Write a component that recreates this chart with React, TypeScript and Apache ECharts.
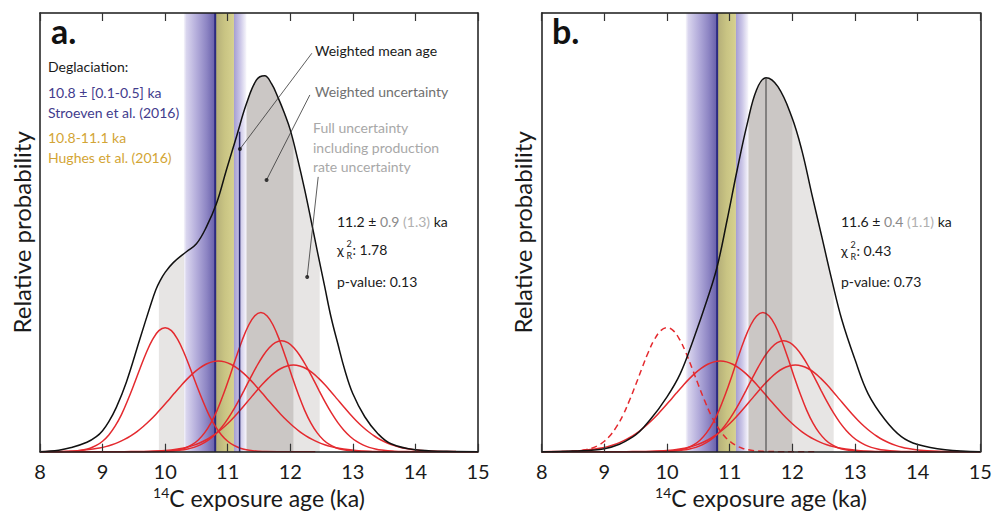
import React, { useEffect, useRef } from 'react';
import * as echarts from 'echarts';

const FONT = 'Lato, "Open Sans", sans-serif';
const Y_MAX = 1.167;
const X_MIN = 8;
const X_MAX = 15;

// Summed probability curve, panel a (all 5 samples) : [age ka, relative probability]
const sumA: number[][] = [
  [8.0, 0], [8.3, 0.004], [8.5, 0.011], [8.75, 0.025], [8.9, 0.04], [9.0, 0.056], [9.1, 0.08], [9.22, 0.118],
  [9.38, 0.185], [9.6, 0.302], [9.76, 0.386], [9.85, 0.43], [9.92, 0.455], [10.0, 0.477], [10.13, 0.503],
  [10.34, 0.532], [10.5, 0.553], [10.66, 0.598], [10.82, 0.66], [10.98, 0.75], [11.14, 0.838], [11.3, 0.926],
  [11.46, 0.989], [11.59, 1.0], [11.7, 0.979], [11.8, 0.944], [11.91, 0.899], [12.0, 0.856], [12.12, 0.777],
  [12.23, 0.697], [12.33, 0.617], [12.44, 0.527], [12.55, 0.439], [12.65, 0.359], [12.76, 0.287], [12.87, 0.218],
  [13.0, 0.154], [13.19, 0.093], [13.4, 0.048], [13.61, 0.021], [14.0, 0.005], [14.5, 0.001], [15.0, 0],
];

// Summed probability curve, panel b (outlier excluded)
const sumB: number[][] = [
  [8.0, 0], [8.5, 0.002], [9.0, 0.008], [9.46, 0.04], [9.73, 0.085], [10.0, 0.146], [10.21, 0.207],
  [10.42, 0.298], [10.64, 0.404], [10.8, 0.492], [10.96, 0.617], [11.12, 0.75], [11.28, 0.872], [11.43, 0.963],
  [11.58, 0.995], [11.77, 0.971], [11.99, 0.891], [12.15, 0.803], [12.31, 0.686], [12.47, 0.572], [12.63, 0.457],
  [12.79, 0.351], [13.0, 0.245], [13.21, 0.154], [13.48, 0.085], [13.74, 0.04], [14.0, 0.019], [14.44, 0.005], [15.0, 0],
];

// Individual sample curves
const sample1: number[][] = [
  [8.0, 0], [8.2, 0.0001], [8.4, 0.0006], [8.5, 0.0013], [8.6, 0.0026], [8.7, 0.0051], [8.8, 0.0094], [8.9, 0.0166],
  [9.0, 0.0279], [9.1, 0.0446], [9.2, 0.068], [9.3, 0.098], [9.4, 0.136], [9.5, 0.178], [9.6, 0.222], [9.7, 0.264],
  [9.8, 0.299], [9.9, 0.322], [10.0, 0.33], [10.1, 0.322], [10.2, 0.299], [10.3, 0.264], [10.4, 0.222], [10.5, 0.178],
  [10.6, 0.136], [10.7, 0.098], [10.8, 0.068], [10.9, 0.0446], [11.0, 0.0279], [11.1, 0.0166], [11.2, 0.0094],
  [11.3, 0.0051], [11.4, 0.0026], [11.5, 0.0013], [11.6, 0.0006], [11.8, 0.0001], [12.0, 0], [12.4, 0],
];
const sample2: number[][] = [
  [8.0, 0.0001], [8.25, 0.0006], [8.45, 0.0014], [8.65, 0.0033], [8.85, 0.0069], [8.95, 0.0097], [9.05, 0.0135],
  [9.15, 0.0185], [9.25, 0.0248], [9.35, 0.0326], [9.45, 0.0422], [9.55, 0.0536], [9.65, 0.067], [9.75, 0.0822],
  [9.85, 0.0991], [9.95, 0.1173], [10.05, 0.1365], [10.15, 0.156], [10.25, 0.175], [10.35, 0.193], [10.45, 0.209],
  [10.55, 0.2225], [10.65, 0.2326], [10.75, 0.239], [10.85, 0.241], [10.95, 0.239], [11.05, 0.2326], [11.15, 0.2225],
  [11.25, 0.209], [11.35, 0.193], [11.45, 0.175], [11.55, 0.156], [11.65, 0.1365], [11.75, 0.1173], [11.85, 0.0991],
  [11.95, 0.0822], [12.05, 0.067], [12.15, 0.0536], [12.25, 0.0422], [12.35, 0.0326], [12.45, 0.0248], [12.55, 0.0185],
  [12.65, 0.0135], [12.75, 0.0097], [12.85, 0.0069], [13.05, 0.0033], [13.25, 0.0014], [13.45, 0.0006], [13.65, 0.0002],
  [13.85, 0], [15.0, 0],
];
const sample3: number[][] = [
  [8.0, 0], [9.73, 0.0001], [9.93, 0.0007], [10.03, 0.0014], [10.13, 0.0029], [10.23, 0.0057], [10.33, 0.0106],
  [10.43, 0.0187], [10.53, 0.0313], [10.63, 0.05], [10.73, 0.076], [10.83, 0.11], [10.93, 0.152], [11.03, 0.199],
  [11.13, 0.249], [11.23, 0.296], [11.33, 0.335], [11.43, 0.361], [11.53, 0.37], [11.63, 0.361], [11.73, 0.335],
  [11.83, 0.296], [11.93, 0.249], [12.03, 0.199], [12.13, 0.152], [12.23, 0.11], [12.33, 0.076], [12.43, 0.05],
  [12.53, 0.0313], [12.63, 0.0187], [12.73, 0.0106], [12.83, 0.0057], [12.93, 0.0029], [13.03, 0.0014],
  [13.13, 0.0007], [13.33, 0.0001], [15.0, 0],
];
const sample4: number[][] = [
  [8.0, 0], [9.66, 0.0001], [9.86, 0.0004], [10.06, 0.0014], [10.26, 0.0043], [10.36, 0.0072], [10.46, 0.0116],
  [10.56, 0.0181], [10.66, 0.0273], [10.76, 0.0399], [10.86, 0.0565], [10.96, 0.0773], [11.06, 0.1024], [11.16, 0.1312],
  [11.26, 0.1627], [11.36, 0.1951], [11.46, 0.2264], [11.56, 0.254], [11.66, 0.276], [11.76, 0.29], [11.86, 0.295],
  [11.96, 0.29], [12.06, 0.276], [12.16, 0.254], [12.26, 0.2264], [12.36, 0.1951], [12.46, 0.1627], [12.56, 0.1312],
  [12.66, 0.1024], [12.76, 0.0773], [12.86, 0.0565], [12.96, 0.0399], [13.06, 0.0273], [13.16, 0.0181], [13.26, 0.0116],
  [13.36, 0.0072], [13.46, 0.0043], [13.66, 0.0014], [13.86, 0.0004], [14.06, 0.0001], [15.0, 0],
];
const sample5: number[][] = [
  [8.0, 0], [9.25, 0.0001], [9.45, 0.0002], [9.65, 0.0006], [9.85, 0.0017], [10.05, 0.0039], [10.15, 0.0058],
  [10.25, 0.0085], [10.35, 0.0121], [10.45, 0.0169], [10.55, 0.0232], [10.65, 0.0312], [10.75, 0.0411], [10.85, 0.0531],
  [10.95, 0.0671], [11.05, 0.0831], [11.15, 0.1009], [11.25, 0.12], [11.35, 0.1399], [11.45, 0.1597], [11.55, 0.1787],
  [11.65, 0.1958], [11.75, 0.2104], [11.85, 0.2214], [11.95, 0.2282], [12.05, 0.2306], [12.15, 0.2282], [12.25, 0.2214],
  [12.35, 0.2104], [12.45, 0.1958], [12.55, 0.1787], [12.65, 0.1597], [12.75, 0.1399], [12.85, 0.12], [12.95, 0.1009],
  [13.05, 0.0831], [13.15, 0.0671], [13.25, 0.0531], [13.35, 0.0411], [13.45, 0.0312], [13.55, 0.0232], [13.65, 0.0169],
  [13.75, 0.0121], [13.85, 0.0085], [13.95, 0.0058], [14.05, 0.0039], [14.25, 0.0017], [14.45, 0.0006], [14.65, 0.0002],
  [14.85, 0.0001], [15.0, 0],
];

// Uncertainty bands [from, to, fillIndex]: 0 = full, 1 = weighted
const uncertaintyA: number[][] = [[9.9, 12.47, 0], [10.3, 12.05, 1]];
const uncertaintyB: number[][] = [[10.5, 12.66, 0], [11.2, 12.0, 1]];
// Deglaciation bands [from, to, fillIndex]
const deglaciation: number[][] = [[10.3, 10.8, 2], [10.8, 11.1, 3], [11.1, 11.3, 4]];
const deglaciationAge = 10.8;

// Weighted mean ages and curve height at mean
const meanA: number[][] = [[11.19, 0], [11.19, 0.851]];
const meanB: number[][] = [[11.58, 0], [11.58, 0.995]];

// Leader lines of panel a annotations: [text end, dot]
const leaders: number[][][] = [
  [[12.345, 1.06], [11.195, 0.805]],
  [[12.313, 0.949], [11.621, 0.723]],
  [[12.446, 0.731], [12.27, 0.465]],
];

const RED = '#e42a2f';
const SMOOTH = 0.4;

function App() {
  const ref = useRef<HTMLDivElement>(null);

  useEffect(() => {
    if (!ref.current) return;
    const chart = echarts.init(ref.current, null, { renderer: 'svg' });
    const LG = echarts.graphic.LinearGradient;
    const fills: any[] = [
      '#e7e5e4',
      '#cbc7c5',
      new LG(0, 0, 1, 0, [
        { offset: 0, color: '#f6f5fb' },
        { offset: 0.08, color: '#d9d5ee' },
        { offset: 0.4, color: '#b4addb' },
        { offset: 0.72, color: '#8e86c4' },
        { offset: 0.95, color: '#6d65ae' },
        { offset: 1, color: '#5d56a3' },
      ]),
      new LG(0, 0, 1, 0, [
        { offset: 0, color: '#b3ad78' },
        { offset: 0.5, color: '#c9c483' },
        { offset: 1, color: '#d6d18f' },
      ]),
      new LG(0, 0, 1, 0, [
        { offset: 0, color: '#a59ed3' },
        { offset: 0.5, color: '#cbc6e7' },
        { offset: 1, color: '#f8f7fc' },
      ]),
    ];

    const bandRenderer = (params: any, api: any) => {
      const p0 = api.coord([api.value(0), Y_MAX]);
      const p1 = api.coord([api.value(1), 0]);
      return {
        type: 'rect',
        shape: { x: p0[0], y: p0[1], width: p1[0] - p0[0], height: p1[1] - p0[1] },
        style: { fill: fills[api.value(2)] },
      };
    };

    const grids = [
      { left: 40, top: 13, width: 438, height: 438.7, outerBoundsMode: 'none' },
      { left: 541.7, top: 13, width: 438.6, height: 438.7, outerBoundsMode: 'none' },
    ];

    const xAxes: any[] = [];
    const yAxes: any[] = [];
    [0, 1].forEach((g) => {
      xAxes.push({
        gridIndex: g, type: 'value', min: X_MIN, max: X_MAX, interval: 1, position: 'bottom', z: 10,
        axisLine: { show: true, onZero: false, lineStyle: { color: '#1a1a1a', width: 1.5 } },
        axisTick: { show: true, inside: true, length: 8, lineStyle: { color: '#333', width: 1.2 } },
        axisLabel: { show: true, fontSize: 20, color: '#1a1a1a', fontFamily: FONT, margin: 9 },
        splitLine: { show: false },
        name: '{sup|14}{n|C exposure age (ka)}',
        nameLocation: 'middle',
        nameGap: 30,
        nameTextStyle: {
          fontFamily: FONT, color: '#1a1a1a', fontSize: 23,
          rich: {
            sup: { fontSize: 14, lineHeight: 16, verticalAlign: 'top', fontFamily: FONT, color: '#1a1a1a' },
            n: { fontSize: 23, lineHeight: 25, fontFamily: FONT, color: '#1a1a1a' },
          },
        },
      });
      xAxes.push({
        gridIndex: g, type: 'value', min: X_MIN, max: X_MAX, interval: 1, position: 'top', z: 10,
        axisLine: { show: true, onZero: false, lineStyle: { color: '#1a1a1a', width: 1.5 } },
        axisTick: { show: true, inside: true, length: 8, lineStyle: { color: '#333', width: 1.2 } },
        axisLabel: { show: false },
        splitLine: { show: false },
      });
      yAxes.push({
        gridIndex: g, type: 'value', min: 0, max: Y_MAX, position: 'left', z: 10,
        axisLine: { show: true, onZero: false, lineStyle: { color: '#1a1a1a', width: 1.5 } },
        axisTick: { show: false }, axisLabel: { show: false }, splitLine: { show: false },
        name: 'Relative probability', nameLocation: 'middle', nameGap: 7,
        nameTextStyle: { fontFamily: FONT, fontSize: 24, color: '#1a1a1a' },
      });
      yAxes.push({
        gridIndex: g, type: 'value', min: 0, max: Y_MAX, position: 'right', z: 10,
        axisLine: { show: true, onZero: false, lineStyle: { color: '#1a1a1a', width: 1.5 } },
        axisTick: { show: false }, axisLabel: { show: false }, splitLine: { show: false },
      });
    });

    const series: any[] = [];
    [0, 1].forEach((p) => {
      const base = { xAxisIndex: p * 2, yAxisIndex: p * 2, silent: true, animation: false };
      const sum = p === 0 ? sumA : sumB;
      series.push({ ...base, type: 'custom', z: 1, renderItem: bandRenderer, data: p === 0 ? uncertaintyA : uncertaintyB, encode: { x: [0, 1], y: 2 } });
      series.push({
        ...base, type: 'line', z: 2, data: sum, smooth: SMOOTH, symbol: 'none',
        lineStyle: { width: 0, color: '#fff' },
        areaStyle: { color: '#ffffff', opacity: 1, origin: 'end' },
      });
      series.push({ ...base, type: 'custom', z: 3, renderItem: bandRenderer, data: deglaciation, encode: { x: [0, 1], y: 2 } });
      series.push({
        ...base, type: 'line', z: 3, symbol: 'none',
        data: [[deglaciationAge, 0], [deglaciationAge, Y_MAX]],
        lineStyle: { color: '#2c2a80', width: 2 },
      });
      const samples = [sample1, sample2, sample3, sample4, sample5];
      samples.forEach((s, i) => {
        const dashed = p === 1 && i === 0;
        series.push({
          ...base, type: 'line', z: 4, data: s, smooth: SMOOTH, symbol: 'none',
          lineStyle: { color: RED, width: 1.5, type: dashed ? [6, 4] : 'solid' },
        });
      });
      series.push({
        ...base, type: 'line', z: 5, data: sum, smooth: SMOOTH, symbol: 'none',
        lineStyle: { color: '#111', width: 1.5 },
      });
      series.push({
        ...base, type: 'line', z: 6, data: p === 0 ? meanA : meanB, symbol: 'none',
        lineStyle: { color: p === 0 ? '#25256a' : '#3a3a3a', width: p === 0 ? 1.5 : 1 },
      });
      if (p === 0) {
        leaders.forEach((l) => {
          series.push({
            ...base, type: 'line', z: 7, data: l, symbol: 'none',
            lineStyle: { color: '#333', width: 0.8 },
          });
        });
        series.push({
          ...base, type: 'scatter', z: 8, data: leaders.map((l) => l[1]), symbol: 'circle', symbolSize: 4,
          itemStyle: { color: '#111' },
        });
      }
    });

    const txt = (text: string, x: number, y: number, fill = '#1a1a1a', extra: any = {}) => ({
      type: 'text', x, y, z: 100, silent: true,
      style: { text, fill, fontFamily: FONT, fontSize: 14, verticalAlign: 'middle', align: 'left', ...extra },
    });
    const statRich = {
      k: { fill: '#1a1a1a', color: '#1a1a1a', fontSize: 14, fontFamily: FONT },
      g: { fill: '#8a8a8a', color: '#8a8a8a', fontSize: 14, fontFamily: FONT },
      l: { fill: '#b0b0b0', color: '#b0b0b0', fontSize: 14, fontFamily: FONT },
    };
    const chi = (x: number, y: number, val: string) => [
      txt('χ', x, y),
      txt('2', x + 9.5, y - 6, '#1a1a1a', { fontSize: 9 }),
      txt('R', x + 9.5, y + 6, '#1a1a1a', { fontSize: 9 }),
      txt(': ' + val, x + 15.5, y),
    ];

    const elements: any[] = [
      txt('a.', 51, 30, '#111', { fontSize: 34, fontWeight: 'bold' }),
      txt('Deglaciation:', 48, 66.5),
      txt('10.8 ± [0.1-0.5] ka', 48, 92, '#423c8d'),
      txt('Stroeven et al. (2016)', 48, 112, '#423c8d'),
      txt('10.8-11.1 ka', 48, 137, '#d3a535'),
      txt('Hughes et al. (2016)', 48, 157, '#d3a535'),
      txt('Weighted mean age', 315, 50),
      txt('Weighted uncertainty', 315, 91.5, '#707070'),
      txt('Full uncertainty', 313, 127, '#a8a8a8'),
      txt('including production', 313, 147, '#a8a8a8'),
      txt('rate uncertainty', 313, 166.5, '#a8a8a8'),
      txt('{k|11.2 ±} {g|0.9} {l|(1.3)} {k|ka}', 337, 221, '#1a1a1a', { rich: statRich }),
      ...chi(337, 249, '1.78'),
      txt('p-value: 0.13', 337, 281),
      txt('b.', 552, 30, '#111', { fontSize: 34, fontWeight: 'bold' }),
      txt('{k|11.6 ±} {g|0.4} {l|(1.1)} {k|ka}', 841, 221, '#1a1a1a', { rich: statRich }),
      ...chi(841, 250, '0.43'),
      txt('p-value: 0.73', 841, 281),
    ];

    chart.setOption({
      animation: false,
      backgroundColor: '#ffffff',
      textStyle: { fontFamily: FONT },
      grid: grids,
      xAxis: xAxes,
      yAxis: yAxes,
      series,
      graphic: { elements },
    });

    return () => chart.dispose();
  }, []);

  return (
    <div
      ref={ref}
      style={{ position: 'fixed', left: 0, top: 0, width: 995, height: 512, background: '#fff' }}
    />
  );
}

export default App;
